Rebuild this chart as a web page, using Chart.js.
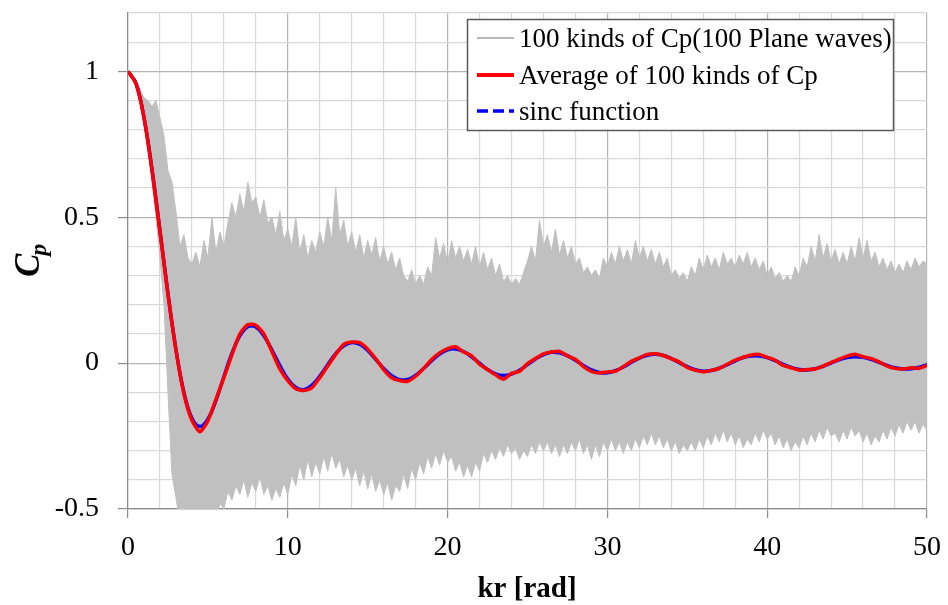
<!DOCTYPE html>
<html>
<head>
<meta charset="utf-8">
<script src="https://cdn.jsdelivr.net/npm/chart.js@4/dist/chart.umd.min.js"></script>
<style>
  body { margin: 0; background: #fff; }
  #wrap { width: 948px; height: 605px; position: relative; }
</style>
</head>
<body>
<div id="wrap"><canvas id="grafico"></canvas></div>
<script>
// kr positions (rad): band sampled every 0.25, lines every 0.5
const krBand = Array.from({ length: 201 }, (_, i) => i * 0.25);
const krLine = Array.from({ length: 101 }, (_, i) => i * 0.5);

const xTickLabels = [0, 10, 20, 30, 40, 50];
const yTickLabels = [-0.5, 0, 0.5, 1];

// upper / lower edge of the 100 Cp curves (grey band)
const cpUpper = [
  1.0, 0.99, 0.97, 0.94, 0.91, 0.9, 0.88, 0.9, 0.84, 0.78, 0.66, 0.62, 0.52,
  0.4, 0.44, 0.36, 0.34, 0.38, 0.33, 0.42, 0.36, 0.5, 0.38, 0.45, 0.4,
  0.48, 0.55, 0.5, 0.58, 0.52, 0.62, 0.55, 0.57, 0.5, 0.56, 0.48, 0.5,
  0.44, 0.52, 0.42, 0.46, 0.4, 0.5, 0.38, 0.44, 0.36, 0.42, 0.38, 0.45,
  0.4, 0.5, 0.42, 0.6, 0.44, 0.49, 0.4, 0.45, 0.38, 0.44, 0.36, 0.42,
  0.37, 0.43, 0.35, 0.4, 0.34, 0.38, 0.32, 0.36, 0.3, 0.28, 0.32, 0.27,
  0.3, 0.27, 0.33, 0.3, 0.43, 0.36, 0.41, 0.34, 0.42, 0.36, 0.4, 0.35,
  0.39, 0.34, 0.4, 0.33, 0.38, 0.32, 0.36, 0.3, 0.34, 0.28, 0.3, 0.27,
  0.29, 0.27, 0.31, 0.35, 0.4, 0.35, 0.49, 0.4, 0.44, 0.38, 0.46, 0.37,
  0.42, 0.36, 0.4, 0.34, 0.36, 0.31, 0.33, 0.3, 0.32, 0.29, 0.36, 0.33,
  0.38, 0.34, 0.4, 0.35, 0.39, 0.34, 0.42, 0.36, 0.4, 0.35, 0.39, 0.34,
  0.38, 0.33, 0.36, 0.3, 0.32, 0.29, 0.31, 0.28, 0.33, 0.3, 0.36, 0.32,
  0.37, 0.33, 0.36, 0.32, 0.38, 0.34, 0.36, 0.33, 0.37, 0.34, 0.38, 0.33,
  0.36, 0.32, 0.35, 0.3, 0.33, 0.29, 0.31, 0.28, 0.3, 0.28, 0.33, 0.3,
  0.36, 0.33, 0.4, 0.35, 0.44, 0.36, 0.41, 0.35, 0.39, 0.34, 0.38, 0.34,
  0.4, 0.35, 0.43, 0.36, 0.42, 0.35, 0.38, 0.33, 0.36, 0.32, 0.35, 0.31,
  0.34, 0.31, 0.35, 0.32, 0.36, 0.33, 0.35, 0.34
];
const cpLower = [
  1.0, 0.985, 0.95, 0.895, 0.82, 0.73, 0.62, 0.5, 0.36, 0.2, -0.1, -0.38, -0.46,
  -0.55, -0.6, -0.58, -0.62, -0.6, -0.63, -0.58, -0.6, -0.52, -0.55, -0.48, -0.5,
  -0.44, -0.47, -0.42, -0.45, -0.4, -0.46, -0.41, -0.44, -0.39, -0.45, -0.42, -0.47,
  -0.43, -0.46, -0.41, -0.45, -0.38, -0.42, -0.35, -0.4, -0.33, -0.39, -0.34, -0.38,
  -0.32, -0.37, -0.31, -0.36, -0.33, -0.39, -0.35, -0.4, -0.36, -0.42, -0.37, -0.43,
  -0.38, -0.44, -0.4, -0.45, -0.41, -0.47, -0.42, -0.44, -0.38, -0.43, -0.36, -0.4,
  -0.34, -0.38, -0.32, -0.36, -0.31, -0.35, -0.3, -0.34, -0.32, -0.37, -0.34, -0.39,
  -0.35, -0.39, -0.34, -0.37, -0.31, -0.34, -0.3, -0.33, -0.29, -0.32, -0.28, -0.31,
  -0.29, -0.33, -0.3, -0.32, -0.28, -0.31, -0.27, -0.3, -0.27, -0.31, -0.28, -0.32,
  -0.28, -0.31, -0.27, -0.3, -0.26, -0.31, -0.28, -0.33, -0.28, -0.32, -0.27, -0.3,
  -0.26, -0.3, -0.27, -0.31, -0.27, -0.3, -0.26, -0.29, -0.25, -0.28, -0.24, -0.28,
  -0.25, -0.29, -0.26, -0.3, -0.27, -0.31, -0.28, -0.3, -0.27, -0.3, -0.26, -0.29,
  -0.25, -0.28, -0.24, -0.27, -0.23, -0.27, -0.24, -0.28, -0.25, -0.29, -0.26, -0.28,
  -0.24, -0.27, -0.23, -0.26, -0.24, -0.28, -0.25, -0.29, -0.26, -0.3, -0.27, -0.29,
  -0.25, -0.28, -0.24, -0.27, -0.23, -0.26, -0.22, -0.25, -0.24, -0.27, -0.23, -0.26,
  -0.22, -0.25, -0.23, -0.27, -0.24, -0.28, -0.25, -0.27, -0.23, -0.26, -0.22, -0.25,
  -0.21, -0.24, -0.2, -0.23, -0.2, -0.24, -0.21, -0.23
];

// average of the 100 Cp curves
const cpAverage = [
  1, 0.958, 0.842, 0.663, 0.452, 0.236, 0.045, -0.105, -0.196, -0.235,
  -0.198, -0.125, -0.05, 0.028, 0.1, 0.132, 0.13, 0.1, 0.04, -0.02,
  -0.06, -0.088, -0.094, -0.085, -0.05, -0.01, 0.03, 0.064, 0.072, 0.07,
  0.048, 0.015, -0.022, -0.05, -0.06, -0.062, -0.045, -0.018, 0.012, 0.035,
  0.05, 0.056, 0.038, 0.025, -0.004, -0.022, -0.04, -0.055, -0.035, -0.028,
  -0.002, 0.016, 0.032, 0.038, 0.04, 0.025, 0.013, -0.012, -0.028, -0.034,
  -0.03, -0.028, -0.012, 0.006, 0.018, 0.03, 0.032, 0.026, 0.015, 0.004,
  -0.015, -0.024, -0.03, -0.025, -0.018, -0.004, 0.01, 0.02, 0.028, 0.03,
  0.02, 0.01, -0.008, -0.016, -0.024, -0.022, -0.02, -0.01, 0.002, 0.014,
  0.024, 0.03, 0.022, 0.016, 0.004, -0.01, -0.018, -0.02, -0.016, -0.018,
  -0.008
];

// sinc function
const cpSinc = [
  1, 0.9589, 0.8415, 0.6650, 0.4546, 0.2394, 0.0470, -0.1002, -0.1892, -0.2172,
  -0.1918, -0.1283, -0.0466, 0.0331, 0.0939, 0.1251, 0.1237, 0.0939, 0.0458, -0.0079,
  -0.0544, -0.0838, -0.0909, -0.0761, -0.0447, -0.0053, 0.0323, 0.0595, 0.0708, 0.0645,
  0.0434, 0.0133, -0.0180, -0.0431, -0.0566, -0.0560, -0.0417, -0.0183, 0.0079, 0.0311,
  0.0456, 0.0485, 0.0398, 0.0218, -0.0004, -0.0217, -0.0368, -0.0425, -0.0377, -0.0241,
  -0.0053, 0.0141, 0.0293, 0.0370, 0.0354, 0.0254, 0.0097, -0.0079, -0.0229, -0.0319,
  -0.0329, -0.0260, -0.0130, 0.0027, 0.0172, 0.0272, 0.0303, 0.0260, 0.0156, 0.0017,
  -0.0122, -0.0228, -0.0276, -0.0255, -0.0174, -0.0053, 0.0078, 0.0186, 0.0247, 0.0247,
  0.0186, 0.0083, -0.0039, -0.0148, -0.0218, -0.0234, -0.0193, -0.0107, 0.0004, 0.0111,
  0.0189, 0.0219, 0.0196, 0.0126, 0.0026, -0.0077, -0.0160, -0.0202, -0.0195, -0.0140,
  -0.0052
];

const serif = '"Liberation Serif", "Times New Roman", serif';
const gris = '#c0c0c0';

const pares = (xs, ys) => xs.map((x, i) => ({ x: x, y: ys[i] }));

// leyenda con marco + títulos de ejes (C con subíndice p)
const decoracion = {
  id: 'decoracion',
  afterDraw(chart) {
    const c = chart.ctx;
    c.save();

    // leyenda
    c.fillStyle = '#fff';
    c.fillRect(467, 19, 426, 111);
    c.strokeStyle = '#5a5a5a';
    c.lineWidth = 1.5;
    c.strokeRect(467.5, 19.5, 426, 111);

    const filas = [
      { y: 38, color: '#a0a0a0', w: 1.5, dash: [], txt: '100 kinds of Cp(100 Plane waves)' },
      { y: 75, color: '#ff0000', w: 4, dash: [], txt: 'Average of 100 kinds of Cp' },
      { y: 111, color: '#0000ff', w: 3.5, dash: [11, 5], txt: 'sinc function' }
    ];
    c.font = '27px ' + serif;
    c.textBaseline = 'middle';
    c.textAlign = 'left';
    filas.forEach(f => {
      c.beginPath();
      c.setLineDash(f.dash);
      c.strokeStyle = f.color;
      c.lineWidth = f.w;
      c.moveTo(477, f.y);
      c.lineTo(514, f.y);
      c.stroke();
      c.setLineDash([]);
      c.fillStyle = '#000';
      c.fillText(f.txt, 519, f.y + 2);
    });

    // título eje x
    c.font = 'bold 29px ' + serif;
    c.textAlign = 'center';
    c.textBaseline = 'alphabetic';
    c.fillText('kr [rad]', 527, 597);

    // título eje y
    c.translate(39, 277);
    c.rotate(-Math.PI / 2);
    c.textAlign = 'left';
    c.font = 'bold italic 35px ' + serif;
    c.fillText('C', 0, 0);
    const w = c.measureText('C').width;
    c.font = 'bold italic 24px ' + serif;
    c.fillText('p', w - 2, 7);

    c.restore();
  }
};

const esMayorY = v => Math.round(v * 10) % 5 === 0;

new Chart(document.getElementById('grafico'), {
  type: 'line',
  data: {
    datasets: [
      {
        label: 'Average of 100 kinds of Cp',
        data: pares(krLine, cpAverage),
        borderColor: '#ff0000',
        borderWidth: 3.5,
        pointRadius: 0,
        tension: 0.2
      },
      {
        label: 'sinc function',
        data: pares(krLine, cpSinc),
        borderColor: '#0000ff',
        borderWidth: 3.5,
        pointRadius: 0,
        tension: 0.4
      },
      {
        label: '100 kinds of Cp(100 Plane waves)',
        data: pares(krBand, cpUpper),
        borderColor: gris,
        backgroundColor: gris,
        borderWidth: 1,
        pointRadius: 0,
        tension: 0,
        fill: '+1'
      },
      {
        label: 'lower',
        data: pares(krBand, cpLower),
        borderColor: gris,
        borderWidth: 1,
        pointRadius: 0,
        tension: 0,
        fill: false
      }
    ]
  },
  options: {
    responsive: true,
    maintainAspectRatio: false,
    animation: false,
    layout: { padding: { top: 13, right: 21, left: 0, bottom: 0 } },
    plugins: {
      legend: { display: false },
      tooltip: { enabled: false },
      filler: { propagate: false }
    },
    scales: {
      x: {
        type: 'linear',
        min: 0,
        max: 50,
        afterFit: s => {
          s.height = 96;
          s.paddingLeft = 0;
          s.paddingRight = 0;
        },
        border: { color: '#8c8c8c', width: 1.2 },
        grid: {
          color: ctx => (ctx.tick && ctx.tick.value % 10 === 0) ? '#b4b4b4' : '#d9d9d9',
          lineWidth: 1.2,
          tickLength: 9,
          tickColor: ctx => (ctx.tick && xTickLabels.includes(ctx.tick.value)) ? '#8c8c8c' : 'rgba(0,0,0,0)'
        },
        ticks: {
          stepSize: 2,
          autoSkip: false,
          maxRotation: 0,
          padding: 13,
          color: '#000',
          font: { family: serif, size: 28 },
          callback: v => xTickLabels.includes(v) ? String(v) : ''
        }
      },
      y: {
        min: -0.5,
        max: 1.2,
        afterFit: s => {
          s.width = 128;
          s.paddingTop = 0;
          s.paddingBottom = 0;
        },
        border: { color: '#8c8c8c', width: 1.2 },
        grid: {
          color: ctx => (ctx.tick && esMayorY(ctx.tick.value)) ? '#b4b4b4' : '#d9d9d9',
          lineWidth: 1.2,
          tickLength: 10,
          tickColor: ctx => (ctx.tick && esMayorY(ctx.tick.value) && ctx.tick.value < 1.1) ? '#8c8c8c' : 'rgba(0,0,0,0)'
        },
        ticks: {
          stepSize: 0.1,
          autoSkip: false,
          padding: 19,
          color: '#000',
          font: { family: serif, size: 28 },
          callback: v => {
            const r = Math.round(v * 10) / 10;
            return yTickLabels.includes(r) ? String(r) : '';
          }
        }
      }
    }
  },
  plugins: [decoracion]
});
</script>
</body>
</html>
